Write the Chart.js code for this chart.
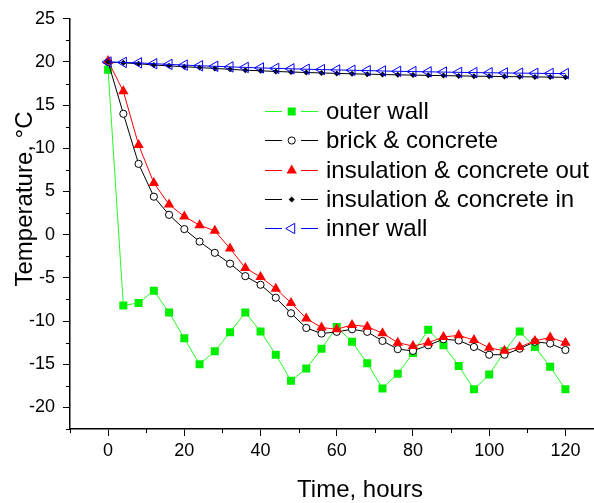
<!DOCTYPE html>
<html>
<head>
<meta charset="utf-8">
<script src="https://cdn.jsdelivr.net/npm/chart.js@4.4.1/dist/chart.umd.min.js"></script>
<style>
    html, body { margin: 0; padding: 0; background: #fff; overflow: hidden; }
    #contenedor { width: 594px; height: 503px; }
</style>
</head>
<body>
<div id="contenedor"><canvas id="grafico" width="594" height="503"></canvas></div>
<script>
// time axis, every 4 hours
const hours = [0, 4, 8, 12, 16, 20, 24, 28, 32, 36, 40, 44, 48, 52, 56, 60,
    64, 68, 72, 76, 80, 84, 88, 92, 96, 100, 104, 108, 112, 116, 120];

const outerWall = [19.1, -8.2, -7.9, -6.5, -9.0, -12.0, -15.0, -13.5, -11.3, -9.0, -11.2,
    -13.9, -16.9, -15.5, -13.2, -10.7, -12.4, -14.9, -17.8, -16.1, -13.7,
    -11.0, -12.8, -15.2, -17.9, -16.2, -13.5, -11.2, -13.0, -15.3, -17.9];
const brickConcrete = [20.0, 14.0, 8.2, 4.4, 2.3, 0.65, -0.8, -2.1, -3.35, -4.8, -5.8,
    -7.3, -9.1, -10.8, -11.45, -11.25, -10.95, -11.25, -12.3, -13.25, -13.45,
    -12.8, -12.1, -12.25, -13.0, -13.9, -13.9, -13.2, -12.4, -12.6, -13.35];
const insulationOut = [20.1, 16.6, 10.4, 6.0, 3.5, 2.1, 1.1, 0.45, -1.6, -3.85, -4.9,
    -6.25, -7.9, -9.7, -10.75, -10.95, -10.45, -10.65, -11.4, -12.5, -12.9,
    -12.5, -11.85, -11.65, -12.2, -13.1, -13.45, -13.0, -12.3, -11.9, -12.5];
const insulationIn = [20.0, 19.9, 19.8, 19.65, 19.55, 19.45, 19.35, 19.25, 19.15, 19.05, 18.98,
    18.9, 18.84, 18.78, 18.73, 18.68, 18.63, 18.59, 18.55, 18.51, 18.48,
    18.45, 18.42, 18.39, 18.36, 18.34, 18.31, 18.29, 18.27, 18.25, 18.22];
const innerWall = [20.0, 19.95, 19.9, 19.8, 19.72, 19.64, 19.56, 19.5, 19.43, 19.37, 19.31,
    19.26, 19.21, 19.16, 19.12, 19.08, 19.04, 19.0, 18.96, 18.92, 18.89,
    18.86, 18.83, 18.8, 18.77, 18.75, 18.73, 18.71, 18.69, 18.67, 18.65];

const seriesNames = ['outer wall', 'brick & concrete', 'insulation & concrete out',
    'insulation & concrete in', 'inner wall'];

const xTicks = [0, 20, 40, 60, 80, 100, 120];
const xMinor = [-10, 10, 30, 50, 70, 90, 110];
const yTicks = [-20, -15, -10, -5, 0, 5, 10, 15, 20, 25];
const yMinor = [-22.5, -17.5, -12.5, -7.5, -2.5, 2.5, 7.5, 12.5, 17.5, 22.5];

const FONT = 'Arial, "Liberation Sans", sans-serif';

function toPoints(arr) {
    return hours.map((h, i) => ({ x: h, y: arr[i] }));
}

// same shapes as chart.js point styles, used for the legend
function drawMarker(ctx, ds, x, y) {
    const r = ds.pointRadius;
    const rot = (ds.pointRotation || 0) * Math.PI / 180;
    ctx.save();
    ctx.fillStyle = ds.pointBackgroundColor;
    ctx.strokeStyle = ds.pointBorderColor;
    ctx.lineWidth = ds.pointBorderWidth;
    ctx.beginPath();
    if (ds.pointStyle === 'rect') {
        const s = Math.SQRT1_2 * r;
        ctx.rect(x - s, y - s, 2 * s, 2 * s);
    } else if (ds.pointStyle === 'circle') {
        ctx.arc(x, y, r, 0, Math.PI * 2);
    } else if (ds.pointStyle === 'rectRot') {
        ctx.moveTo(x - r, y);
        ctx.lineTo(x, y - r);
        ctx.lineTo(x + r, y);
        ctx.lineTo(x, y + r);
    } else if (ds.pointStyle === 'triangle') {
        let a = rot;
        ctx.moveTo(x + Math.sin(a) * r, y - Math.cos(a) * r);
        a += Math.PI * 2 / 3;
        ctx.lineTo(x + Math.sin(a) * r, y - Math.cos(a) * r);
        a += Math.PI * 2 / 3;
        ctx.lineTo(x + Math.sin(a) * r, y - Math.cos(a) * r);
    }
    ctx.closePath();
    ctx.fill();
    if (ds.pointBorderWidth > 0) ctx.stroke();
    ctx.restore();
}

const extras = {
    id: 'extras',
    afterDraw(chart) {
        const ctx = chart.ctx;
        const xs = chart.scales.x;
        const ys = chart.scales.y;
        const area = chart.chartArea;

        // minor ticks
        ctx.save();
        ctx.strokeStyle = '#000';
        ctx.lineWidth = 1;
        ctx.beginPath();
        xMinor.forEach(v => {
            const px = Math.round(xs.getPixelForValue(v)) + 0.5;
            ctx.moveTo(px, area.bottom);
            ctx.lineTo(px, area.bottom + 4);
        });
        yMinor.forEach(v => {
            const py = Math.round(ys.getPixelForValue(v)) + 0.5;
            ctx.moveTo(area.left - 4, py);
            ctx.lineTo(area.left, py);
        });
        ctx.stroke();

        // axis titles
        ctx.fillStyle = '#000';
        ctx.font = '24px ' + FONT;
        ctx.textAlign = 'center';
        ctx.textBaseline = 'alphabetic';
        ctx.fillText('Time, hours', 360, 497);
        ctx.translate(32, 199);
        ctx.rotate(-Math.PI / 2);
        ctx.fillText('Temperature, \u00B0C', 0, 0);
        ctx.restore();

        // legend
        ctx.save();
        ctx.font = '24px ' + FONT;
        ctx.textAlign = 'left';
        ctx.textBaseline = 'middle';
        chart.data.datasets.forEach((ds, i) => {
            const y = Math.round(111 + i * 29.3) + 0.5;
            ctx.strokeStyle = ds.borderColor;
            ctx.lineWidth = 1;
            ctx.beginPath();
            ctx.moveTo(265, y);
            ctx.lineTo(282, y);
            ctx.moveTo(301, y);
            ctx.lineTo(318, y);
            ctx.stroke();
            drawMarker(ctx, ds, 291.7, y);
            ctx.fillStyle = '#000';
            ctx.fillText(ds.label, 326, y + 1);
        });
        ctx.restore();
    }
};

function makeDataset(label, values, color, style, radius, fill, order, extra) {
    return Object.assign({
        label: label,
        data: toPoints(values),
        borderColor: color,
        borderWidth: 1,
        tension: 0,
        pointStyle: style,
        pointRadius: radius,
        pointHoverRadius: radius,
        pointBackgroundColor: fill,
        pointBorderColor: color,
        pointBorderWidth: 1,
        order: order
    }, extra || {});
}

const datasets = [
    makeDataset(seriesNames[0], outerWall, '#00ee00', 'rect', 5.66, '#00ee00', 5, { pointBorderWidth: 0, borderColor: '#22ff22' }),
    makeDataset(seriesNames[1], brickConcrete, '#000000', 'circle', 3.6, '#ffffff', 4),
    makeDataset(seriesNames[2], insulationOut, '#ff0000', 'triangle', 6, '#ff0000', 3, { pointBorderWidth: 0 }),
    makeDataset(seriesNames[3], insulationIn, '#000000', 'rectRot', 3, '#000000', 2, { pointBorderWidth: 0 }),
    makeDataset(seriesNames[4], innerWall, '#0000ff', 'triangle', 6, 'rgba(255,255,255,0)', 1, { pointRotation: -90 })
];

const ctx = document.getElementById('grafico').getContext('2d');
const myChart = new Chart(ctx, {
    type: 'line',
    data: { datasets: datasets },
    options: {
        responsive: false,
        animation: false,
        devicePixelRatio: 1,
        layout: { autoPadding: false, padding: { top: 18, right: 0, bottom: 0, left: 0 } },
        plugins: {
            legend: { display: false },
            tooltip: { enabled: false }
        },
        scales: {
            x: {
                type: 'linear',
                min: -10,
                max: 127.5,
                afterBuildTicks: s => { s.ticks = xTicks.map(v => ({ value: v })); },
                afterFit: s => { s.height = 74; },
                grid: { drawOnChartArea: false, tickLength: 7, color: '#000', lineWidth: 1 },
                border: { display: true, color: '#000', width: 1.5 },
                ticks: { color: '#000', padding: 4, maxRotation: 0, font: { family: FONT, size: 18 } }
            },
            y: {
                type: 'linear',
                min: -22.5,
                max: 25,
                afterBuildTicks: s => { s.ticks = yTicks.map(v => ({ value: v })); },
                afterFit: s => { s.width = 70; },
                grid: { drawOnChartArea: false, tickLength: 7, color: '#000', lineWidth: 1 },
                border: { display: true, color: '#000', width: 1.5 },
                ticks: { color: '#000', padding: 8, font: { family: FONT, size: 18 } }
            }
        }
    },
    plugins: [extras]
});
</script>
</body>
</html>
